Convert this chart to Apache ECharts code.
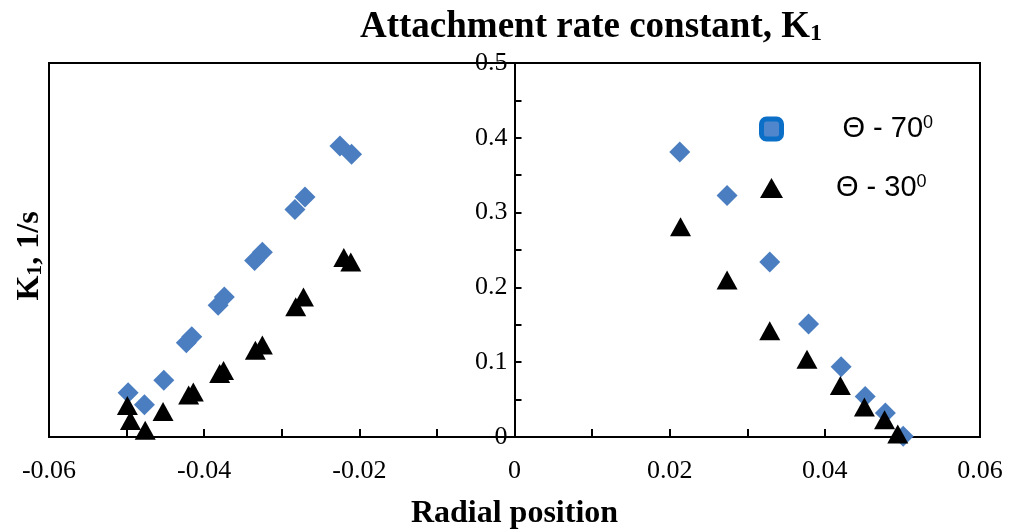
<!DOCTYPE html>
<html><head><meta charset="utf-8">
<script src="https://cdn.jsdelivr.net/npm/echarts@6/dist/echarts.min.js"></script>
<style>html,body{margin:0;padding:0;background:#fff}#c{width:1014px;height:531px}</style>
</head><body><div id="c"></div>
<script>
// ---- data ----
const theta70X = [-0.0498, -0.0477, -0.0452, -0.0423, -0.0416, -0.0382, -0.0374, -0.0335, -0.0325, -0.0283, -0.0270, -0.0225, -0.0210,
                  0.0213, 0.0274, 0.0329, 0.0379, 0.0421, 0.0452, 0.0478, 0.0501];
const theta70Y = [0.059, 0.043, 0.076, 0.126, 0.134, 0.176, 0.187, 0.236, 0.247, 0.304, 0.321, 0.389, 0.378,
                  0.381, 0.323, 0.234, 0.151, 0.094, 0.054, 0.032, 0.001];
const theta30X = [-0.0499, -0.0495, -0.0476, -0.0453, -0.0420, -0.0414, -0.0380, -0.0375, -0.0334, -0.0325, -0.0282, -0.0272, -0.0220, -0.0211,
                  0.0214, 0.0274, 0.0329, 0.0377, 0.0420, 0.0451, 0.0477, 0.0494];
const theta30Y = [0.042, 0.022, 0.009, 0.034, 0.056, 0.060, 0.085, 0.089, 0.116, 0.123, 0.174, 0.187, 0.240, 0.234,
                  0.281, 0.210, 0.142, 0.104, 0.069, 0.040, 0.023, 0.004];
const seriesNames = ['Θ - 70', 'Θ - 30'];
const xTickLabels = ['-0.06', '-0.04', '-0.02', '0', '0.02', '0.04', '0.06'];
const yTickLabels = ['0', '0.1', '0.2', '0.3', '0.4', '0.5'];

const serif = '"Liberation Serif", "Times New Roman", serif';
const sans = '"Liberation Sans", Arial, sans-serif';
const zip = (xs, ys) => xs.map((x, i) => [x, ys[i]]);

const chart = echarts.init(document.getElementById('c'), null, { renderer: 'canvas' });

const legendText = pad => ({
  color: '#000',
  rich: {
    a: { fontFamily: sans, fontSize: 29, lineHeight: 30, color: '#000', padding: [0, 0, 0, pad], verticalAlign: 'middle' },
    s: { fontFamily: sans, fontSize: 18, lineHeight: 14, color: '#000', verticalAlign: 'top' }
  }
});

const gridLeft = 49, gridRight = 34;
const plotW = 1014 - gridLeft - gridRight;

const option = {
  animation: false,
  backgroundColor: '#fff',
  title: {
    text: '{m|Attachment rate constant, K}{s|1}',
    left: 591, top: 6, textAlign: 'center', padding: 0,
    textStyle: {
      rich: {
        m: { fontFamily: serif, fontWeight: 'bold', fontSize: 37, lineHeight: 40, color: '#000', verticalAlign: 'bottom' },
        s: { fontFamily: serif, fontWeight: 'bold', fontSize: 24, lineHeight: 20, color: '#000', verticalAlign: 'bottom' }
      }
    }
  },
  legend: [
    {
      data: [{ name: seriesNames[0], icon: 'roundRect', itemStyle: { color: '#4f86cc', borderColor: '#0b6fc8', borderWidth: 5 } }],
      left: 759, top: 114, itemWidth: 20, itemHeight: 20, padding: 0, selectedMode: false,
      formatter: n => '{a|' + n + '}{s|0}',
      textStyle: legendText(56)
    },
    {
      data: [{ name: seriesNames[1], icon: 'triangle' }],
      left: 760, top: 173, itemWidth: 23, itemHeight: 20, padding: 0, selectedMode: false,
      formatter: n => '{a|' + n + '}{s|0}',
      textStyle: legendText(48)
    }
  ],
  grid: {
    left: gridLeft, right: gridRight, top: 63, bottom: 94,
    show: true, borderColor: '#000', borderWidth: 2,
    containLabel: false, outerBoundsMode: 'none'
  },
  xAxis: {
    type: 'value', min: -0.06, max: 0.06, interval: 0.02,
    axisLine: { show: true, lineStyle: { color: '#000', width: 2 } },
    axisTick: { show: true, inside: true, length: 8, lineStyle: { color: '#000', width: 2 } },
    minorTick: { show: true, splitNumber: 2, length: 8, lineStyle: { color: '#000', width: 2 } },
    splitLine: { show: false },
    axisLabel: {
      color: '#000', fontFamily: serif, fontSize: 26, margin: 21,
      formatter: v => xTickLabels[Math.round((v + 0.06) / 0.02)]
    },
    name: 'Radial position', nameLocation: 'middle', nameGap: 61,
    nameTextStyle: { fontFamily: serif, fontWeight: 'bold', fontSize: 32, color: '#000' }
  },
  yAxis: {
    type: 'value', min: 0, max: 0.5, interval: 0.1,
    offset: -plotW / 2,
    axisLine: { show: true, onZero: false, lineStyle: { color: '#000', width: 2 } },
    axisTick: { show: true, inside: true, length: 7, lineStyle: { color: '#000', width: 2 } },
    minorTick: { show: true, splitNumber: 2, length: 7, lineStyle: { color: '#000', width: 2 } },
    splitLine: { show: false },
    axisLabel: {
      color: '#000', fontFamily: serif, fontSize: 26, margin: 7,
      formatter: v => yTickLabels[Math.round(v / 0.1)]
    }
  },
  graphic: [{
    type: 'text', x: 28, y: 256, rotation: Math.PI / 2,
    style: {
      text: '{m|K}{s|1}{m|, 1/s}', align: 'center', verticalAlign: 'middle',
      rich: {
        m: { fontFamily: serif, fontWeight: 'bold', fontSize: 32, lineHeight: 36, fill: '#000', color: '#000', verticalAlign: 'bottom' },
        s: { fontFamily: serif, fontWeight: 'bold', fontSize: 22, lineHeight: 18, fill: '#000', color: '#000', verticalAlign: 'bottom' }
      }
    }
  }],
  series: [
    {
      name: seriesNames[0], type: 'scatter', symbol: 'diamond', symbolSize: 21,
      itemStyle: { color: '#4b7ec1', opacity: 1 },
      data: zip(theta70X, theta70Y), z: 2
    },
    {
      name: seriesNames[1], type: 'scatter', symbol: 'triangle', symbolSize: [21, 19],
      itemStyle: { color: '#000', opacity: 1 },
      data: zip(theta30X, theta30Y), z: 3
    }
  ]
};
chart.setOption(option);
</script>
</body></html>
